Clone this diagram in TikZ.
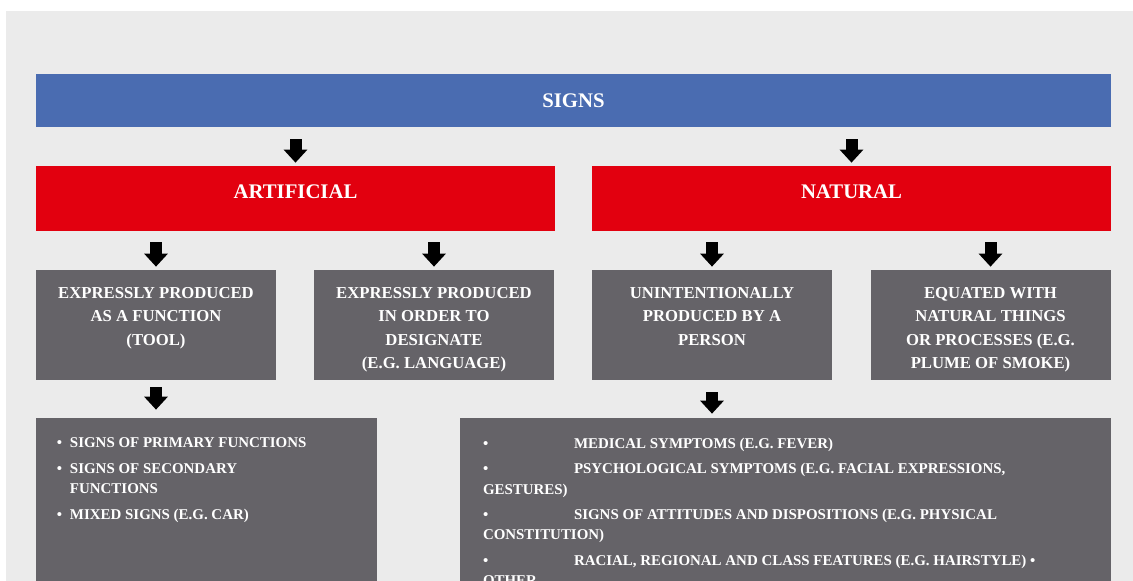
\documentclass[tikz,border=0pt]{standalone}
\usepackage{fontspec}
\setmainfont{Liberation Serif}
\usetikzlibrary{arrows.meta}

\definecolor{signsblue}{HTML}{4A6CB1}
\definecolor{signsred}{HTML}{E2000F}
\definecolor{boxgrey}{HTML}{656368}
\definecolor{panelgrey}{HTML}{EBEBEB}

\newcommand{\toptext}[1]{\parbox[c][22mm][t]{48mm}{\centering\vspace*{3.4mm}#1}}
\newcommand{\listtext}[3]{\parbox[c][36.4mm][t]{#1}{\raggedright\leftskip=#2\vspace*{4mm}#3}}
\newcommand{\hangbullet}{\leavevmode\llap{\makebox[2.6mm][l]{\textbullet}}}

\tikzset{
	bar/.style={fill=#1, text=white, inner sep=0pt, font=\fontsize{11.8}{14}\selectfont\bfseries},
	redbar/.style={bar=signsred, minimum width=103.8mm, minimum height=13mm, text height=2.8mm, text depth=2.8mm},
	greybox/.style={fill=boxgrey, text=white, inner sep=0pt, font=\fontsize{9.5}{13.4}\selectfont\bfseries},
	listbox/.style={fill=boxgrey, text=white, inner sep=0pt, font=\fontsize{8.5}{11.6}\selectfont\bfseries},
	blockarrow/.style={line width=2.4mm, -{Triangle[width=4.6mm,length=2.6mm]}}
}

\begin{document}
\begin{tikzpicture}[x=0.2mm,y=-0.2mm]
	\useasboundingbox (0,0) rectangle (1133,581);
	\clip (0,0) rectangle (1133,581);
	\fill[panelgrey] (6,11) rectangle (1133,581);

	\node[bar=signsblue, minimum width=215mm, minimum height=10.6mm] (signs) at (573.5,100.5) {SIGNS};
	\node[redbar] (artificial) at (295.5,198.5) {ARTIFICIAL};
	\node[redbar] (natural) at (851.5,198.5) {NATURAL};

	\node[greybox] (tool) at (156,325) {\toptext{EXPRESSLY PRODUCED\\AS A FUNCTION\\(TOOL)}};
	\node[greybox] (designate) at (434,325) {\toptext{EXPRESSLY PRODUCED\\IN ORDER TO\\DESIGNATE\\(E.G. LANGUAGE)}};
	\node[greybox] (person) at (712,325) {\toptext{UNINTENTIONALLY\\PRODUCED BY A\\PERSON}};
	\node[greybox] (smoke) at (990.5,325) {\toptext{EQUATED WITH\\NATURAL THINGS\\OR PROCESSES (E.G.\\PLUME OF SMOKE)}};

	\node[listbox] (functions) at (206.5,509) {\listtext{68.2mm}{6.8mm}{%
		\hangbullet SIGNS OF PRIMARY FUNCTIONS\\[1mm]
		\hangbullet SIGNS OF SECONDARY\\FUNCTIONS\\[1mm]
		\hangbullet MIXED SIGNS (E.G. CAR)}};
	\node[listbox] (symptoms) at (785.5,509) {\listtext{130.2mm}{4.6mm}{%
		\makebox[18.2mm][l]{\textbullet}MEDICAL SYMPTOMS (E.G. FEVER)\\[1mm]
		\makebox[18.2mm][l]{\textbullet}PSYCHOLOGICAL SYMPTOMS (E.G. FACIAL EXPRESSIONS,\\GESTURES)\\[1mm]
		\makebox[18.2mm][l]{\textbullet}SIGNS OF ATTITUDES AND DISPOSITIONS (E.G. PHYSICAL\\CONSTITUTION)\\[1mm]
		\makebox[18.2mm][l]{\textbullet}RACIAL, REGIONAL AND CLASS FEATURES (E.G. HAIRSTYLE) \textbullet\\OTHER}};

	\draw[blockarrow, shorten <=2.4mm, shorten >=0.6mm] (signs.south -| artificial) -- (artificial.north);
	\draw[blockarrow, shorten <=2.4mm, shorten >=0.6mm] (signs.south -| natural) -- (natural.north);
	\draw[blockarrow, shorten <=2.2mm, shorten >=0.6mm] (artificial.south -| tool) -- (tool.north);
	\draw[blockarrow, shorten <=2.2mm, shorten >=0.6mm] (artificial.south -| designate) -- (designate.north);
	\draw[blockarrow, shorten <=2.2mm, shorten >=0.6mm] (natural.south -| person) -- (person.north);
	\draw[blockarrow, shorten <=2.2mm, shorten >=0.6mm] (natural.south -| smoke) -- (smoke.north);
	\draw[blockarrow, shorten <=1.4mm, shorten >=1.6mm] (tool.south) -- (functions.north -| tool);
	\draw[blockarrow, shorten <=2.4mm, shorten >=0.8mm] (person.south) -- (symptoms.north -| person);
\end{tikzpicture}
\end{document}
